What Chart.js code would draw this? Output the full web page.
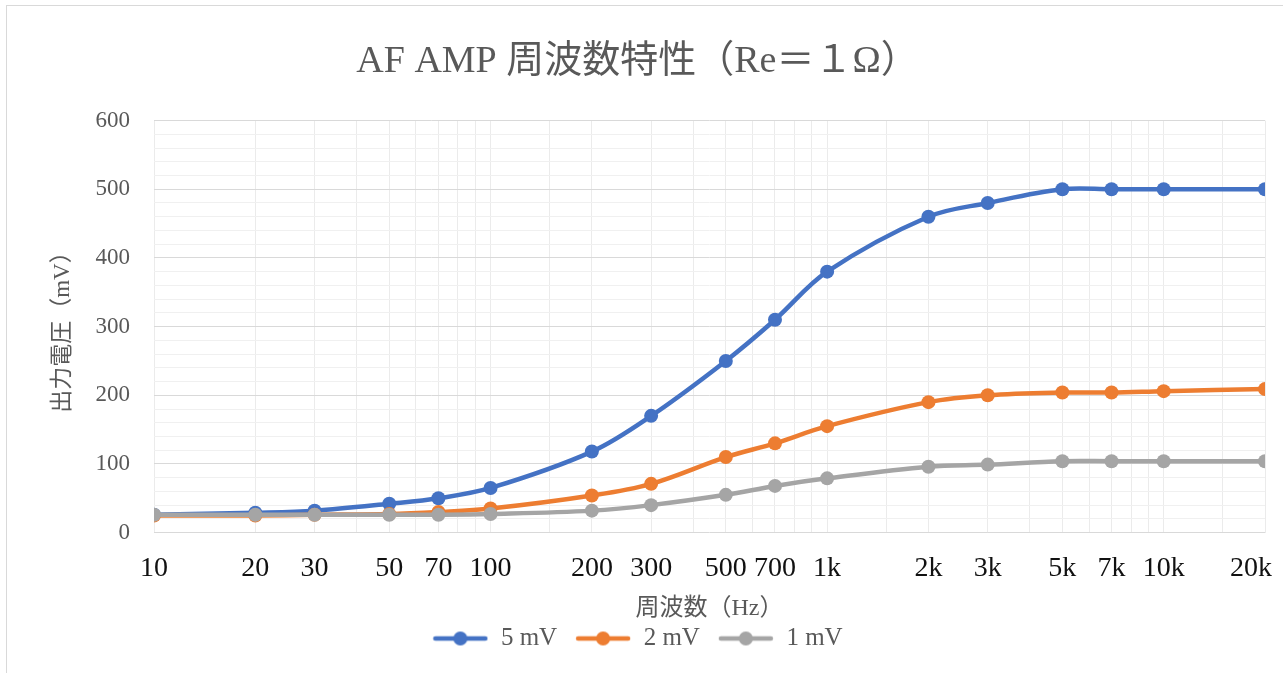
<!DOCTYPE html>
<html>
<head>
<meta charset="utf-8">
<script src="https://cdn.jsdelivr.net/npm/chart.js@4.4.1/dist/chart.umd.min.js"></script>
<style>
  html, body { margin: 0; padding: 0; background: #fff; }
  #wrap { position: relative; width: 1283px; height: 673px; overflow: hidden; }
  #frame { position: absolute; left: 6px; top: 5px; width: 1300px; height: 700px; border: 1px solid #d9d9d9; }
  #c { position: absolute; left: 0; top: 0; }
</style>
</head>
<body>
<div id="wrap">
  <div id="frame"></div>
  <canvas id="c" width="1283" height="673"></canvas>
</div>
<script>
// 周波数 (Hz)
const freqs = [10, 20, 30, 50, 70, 100, 200, 300, 500, 700, 1000, 2000, 3000, 5000, 7000, 10000, 20000];
// 目盛りラベル
const xTickLabels = ['10', '20', '30', '50', '70', '100', '200', '300', '500', '700', '1k', '2k', '3k', '5k', '7k', '10k', '20k'];
// 出力電圧 (mV)
const out5mV = [26, 29, 32, 42, 50, 65, 118, 170, 250, 310, 380, 460, 480, 500, 500, 500, 500];
const out2mV = [25, 25, 26, 27, 30, 35, 54, 71, 110, 130, 155, 190, 200, 204, 204, 206, 209];
const out1mV = [26, 26, 26, 26, 26, 27, 32, 40, 55, 68, 79, 96, 99, 104, 104, 104, 104];
const seriesNames = ['5 mV', '2 mV', '1 mV'];
const seriesColors = ['#4472C4', '#ED7D31', '#A5A5A5'];

const SERIF = "'Liberation Serif', 'DejaVu Serif', 'Noto Sans CJK JP', serif";

function toPoints(values) {
    return freqs.map(function(f, i) { return { x: f, y: values[i] }; });
}

// 凡例用の線＋マーカー画像
function legendMarker(color) {
    const cv = document.createElement('canvas');
    cv.width = 56;
    cv.height = 16;
    const g = cv.getContext('2d');
    g.strokeStyle = color;
    g.lineWidth = 4.5;
    g.lineCap = 'round';
    g.beginPath();
    g.moveTo(3, 8);
    g.lineTo(53, 8);
    g.stroke();
    g.fillStyle = color;
    g.beginPath();
    g.arc(28, 8, 7, 0, Math.PI * 2);
    g.fill();
    return cv;
}
const markers = seriesColors.map(legendMarker);

const datasets = [out5mV, out2mV, out1mV].map(function(vals, i) {
    return {
        label: seriesNames[i],
        data: toPoints(vals),
        borderColor: seriesColors[i],
        backgroundColor: seriesColors[i],
        borderWidth: 4.5,
        pointRadius: 7,
        pointHoverRadius: 7,
        pointBorderWidth: 0,
        tension: 0.35,
        fill: false
    };
});
// 灰色が一番手前
datasets.reverse();

new Chart(document.getElementById('c'), {
    type: 'line',
    data: { datasets: datasets },
    options: {
        responsive: false,
        animation: false,
        events: [],
        layout: { padding: { left: 10, right: 18, top: 20, bottom: 12 } },
        scales: {
            x: {
                type: 'logarithmic',
                min: 10,
                max: 20000,
                grid: { color: '#ebebeb', lineWidth: 1, drawTicks: false },
                border: { display: false },
                ticks: {
                    autoSkip: false,
                    maxRotation: 0,
                    padding: 19,
                    color: '#111',
                    font: { family: SERIF, size: 28 },
                    callback: function(value) {
                        const idx = freqs.indexOf(Number(value));
                        if (idx < 0) return '';
                        // 右端のラベルは枠内に収める
                        return idx === freqs.length - 1 ? xTickLabels[idx] + '    ' : xTickLabels[idx];
                    }
                },
                title: {
                    display: true,
                    text: '周波数（Hz）',
                    color: '#595959',
                    font: { family: SERIF, size: 24 },
                    padding: { top: -10, bottom: -15 }
                },
                afterFit: function(scale) {
                    scale.paddingRight = 0;
                }
            },
            y: {
                min: 0,
                max: 600,
                grid: {
                    drawTicks: false,
                    lineWidth: 1,
                    color: function(ctx) {
                        return ctx.tick && ctx.tick.value % 100 === 0 ? '#d9d9d9' : '#f0f0f0';
                    }
                },
                border: { display: false },
                ticks: {
                    autoSkip: false,
                    stepSize: 20,
                    padding: 24,
                    color: '#595959',
                    font: { family: SERIF, size: 23 },
                    callback: function(value) {
                        return value % 100 === 0 ? String(value) : '';
                    }
                },
                title: {
                    display: true,
                    text: '出力電圧（mV）',
                    color: '#595959',
                    font: { family: SERIF, size: 23 },
                    padding: { top: 39, bottom: 0 }
                },
                afterFit: function(scale) {
                    scale.width = 144;
                }
            }
        },
        plugins: {
            title: {
                display: true,
                text: 'AF AMP 周波数特性（Re＝１Ω）',
                color: '#595959',
                font: { family: SERIF, size: 38, weight: 'normal' },
                padding: { top: 19, bottom: 36 }
            },
            legend: {
                position: 'bottom',
                labels: {
                    usePointStyle: true,
                    pointStyleWidth: 56,
                    padding: 18,
                    color: '#595959',
                    font: { family: SERIF, size: 25 },
                    generateLabels: function(chart) {
                        const items = Chart.defaults.plugins.legend.labels.generateLabels(chart);
                        items.forEach(function(it) {
                            const k = seriesNames.indexOf(it.text);
                            it.pointStyle = markers[k];
                        });
                        items.sort(function(a, b) {
                            return seriesNames.indexOf(a.text) - seriesNames.indexOf(b.text);
                        });
                        return items;
                    }
                }
            },
            tooltip: { enabled: false }
        }
    }
});
</script>
</body>
</html>
